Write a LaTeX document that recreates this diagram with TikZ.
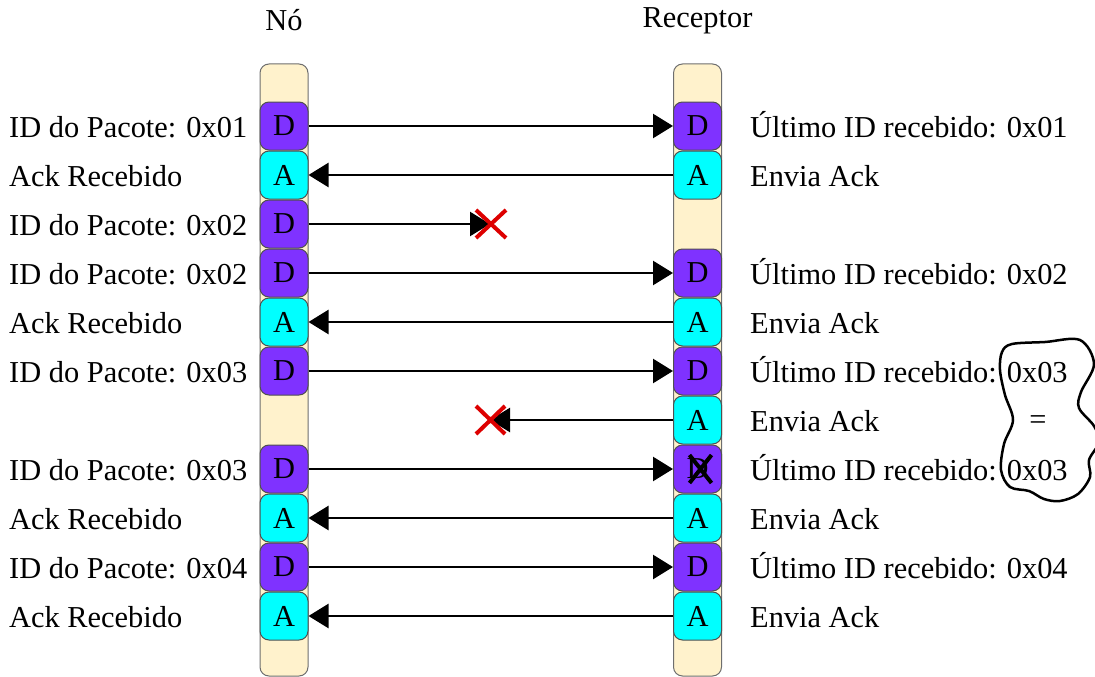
\documentclass[tikz,border=0pt]{standalone}
\usepackage{fontspec}
\setmainfont{Liberation Serif}
\usetikzlibrary{arrows.meta,calc}
\definecolor{msgpurple}{RGB}{127,50,255}
\definecolor{ackcyan}{RGB}{0,255,255}
\definecolor{lanefill}{HTML}{FFF2CC}
\definecolor{lanedraw}{HTML}{6E6E6E}
\definecolor{boxdraw}{HTML}{505050}
\definecolor{lossred}{HTML}{DD0000}
\begin{document}
\begin{tikzpicture}[x=1pt,y=-1pt,
  font=\fontsize{30.4}{36}\selectfont,
  lane/.style={draw=lanedraw, fill=lanefill, line width=1pt, rounded corners=9pt,
    minimum width=48pt, minimum height=612pt, inner sep=0pt},
  pktbox/.style={draw=boxdraw, line width=1pt, rounded corners=9pt,
    minimum width=48pt, minimum height=48pt, inner sep=0pt},
  databox/.style={pktbox, fill=msgpurple},
  ackbox/.style={pktbox, fill=ackcyan},
  msg/.style={line width=2.5pt, -{Triangle[length=20pt,width=24pt]}},
  lbl/.style={anchor=base west, inner sep=0pt},
  heading/.style={anchor=base, inner sep=0pt},
  lost/.style={lossred, line width=4pt},
  dup/.style={black, line width=4pt},
  bubble/.style={black, line width=2.5pt, line join=round},
]
\useasboundingbox (0,0) rectangle (1095,677);

% lifelines
\node[lane] (laneN) at (284,370) {};
\node[lane] (laneR) at (697.5,370) {};
\node[heading] (titleN) at (284,31) {Nó};
\node[heading] (titleR) at (697.5,28) {Receptor};

% packets on the node side (row : type)
\foreach \r/\t in {1/D,2/A,3/D,4/D,5/A,6/D,8/D,9/A,10/D,11/A}{
  \pgfmathsetmacro{\yy}{77+49*\r}
  \if\t D
    \node[databox] (l\r) at (284,\yy) {D};
  \else
    \node[ackbox] (l\r) at (284,\yy) {A};
  \fi
}
% packets on the receiver side
\foreach \r/\t in {1/D,2/A,4/D,5/A,6/D,7/A,8/D,9/A,10/D,11/A}{
  \pgfmathsetmacro{\yy}{77+49*\r}
  \if\t D
    \node[databox] (r\r) at (697.5,\yy) {D};
  \else
    \node[ackbox] (r\r) at (697.5,\yy) {A};
  \fi
}

% messages
\coordinate (drop3) at (490,224);
\coordinate (drop7) at (490,420);
\draw[msg] (l1.east) -- (r1.west);
\draw[msg] (r2.west) -- (l2.east);
\draw[msg] (l3.east) -- (drop3);
\draw[msg] (l4.east) -- (r4.west);
\draw[msg] (r5.west) -- (l5.east);
\draw[msg] (l6.east) -- (r6.west);
\draw[msg] (r7.west) -- (drop7);
\draw[msg] (l8.east) -- (r8.west);
\draw[msg] (r9.west) -- (l9.east);
\draw[msg] (l10.east) -- (r10.west);
\draw[msg] (r11.west) -- (l11.east);

% lost messages
\draw[lost] ($(drop3)+(-14,-14)$) -- ($(drop3)+(16,14)$)
            ($(drop3)+(-14,14)$) -- ($(drop3)+(16,-14)$);
\draw[lost] ($(drop7)+(-14,-14)$) -- ($(drop7)+(15,14)$)
            ($(drop7)+(-14,14)$) -- ($(drop7)+(15,-14)$);

% duplicate packet discarded
\draw[dup] ($(r8.center)+(-8,-14)$) -- ($(r8.center)+(14,14)$)
           ($(r8.center)+(-8,14)$) -- ($(r8.center)+(14,-14)$);

% node side labels
\foreach \r/\s in {1/{ID do Pacote: 0x01},2/{Ack Recebido},3/{ID do Pacote: 0x02},
  4/{ID do Pacote: 0x02},5/{Ack Recebido},6/{ID do Pacote: 0x03},
  8/{ID do Pacote: 0x03},9/{Ack Recebido},10/{ID do Pacote: 0x04},11/{Ack Recebido}}{
  \pgfmathsetmacro{\yy}{88+49*\r}
  \node[lbl] (tl\r) at (9,\yy) {\s};
}
% receiver side labels
\foreach \r/\s in {1/{Último ID recebido: 0x01},2/{Envia Ack},
  4/{Último ID recebido: 0x02},5/{Envia Ack},6/{Último ID recebido: 0x03},
  7/{Envia Ack},8/{Último ID recebido: 0x03},9/{Envia Ack},
  10/{Último ID recebido: 0x04},11/{Envia Ack}}{
  \pgfmathsetmacro{\yy}{88+49*\r}
  \node[lbl] (tr\r) at (750,\yy) {\s};
}

% comparison of the repeated ID
\draw[bubble] plot[smooth cycle, tension=0.55] coordinates {
  (1002,352) (1012,344) (1045,342) (1080,340) (1094,364) (1081,392)
  (1079,408) (1094,426) (1099,442) (1089,460) (1090,477) (1078,494)
  (1060,501) (1044,499) (1029,491) (1010,487) (1001,470) (1004,444)
  (1013,420) (1005,395) (1000,370)};
\node[inner sep=0pt] (eq) at (1038,423) {=};
\end{tikzpicture}
\end{document}
